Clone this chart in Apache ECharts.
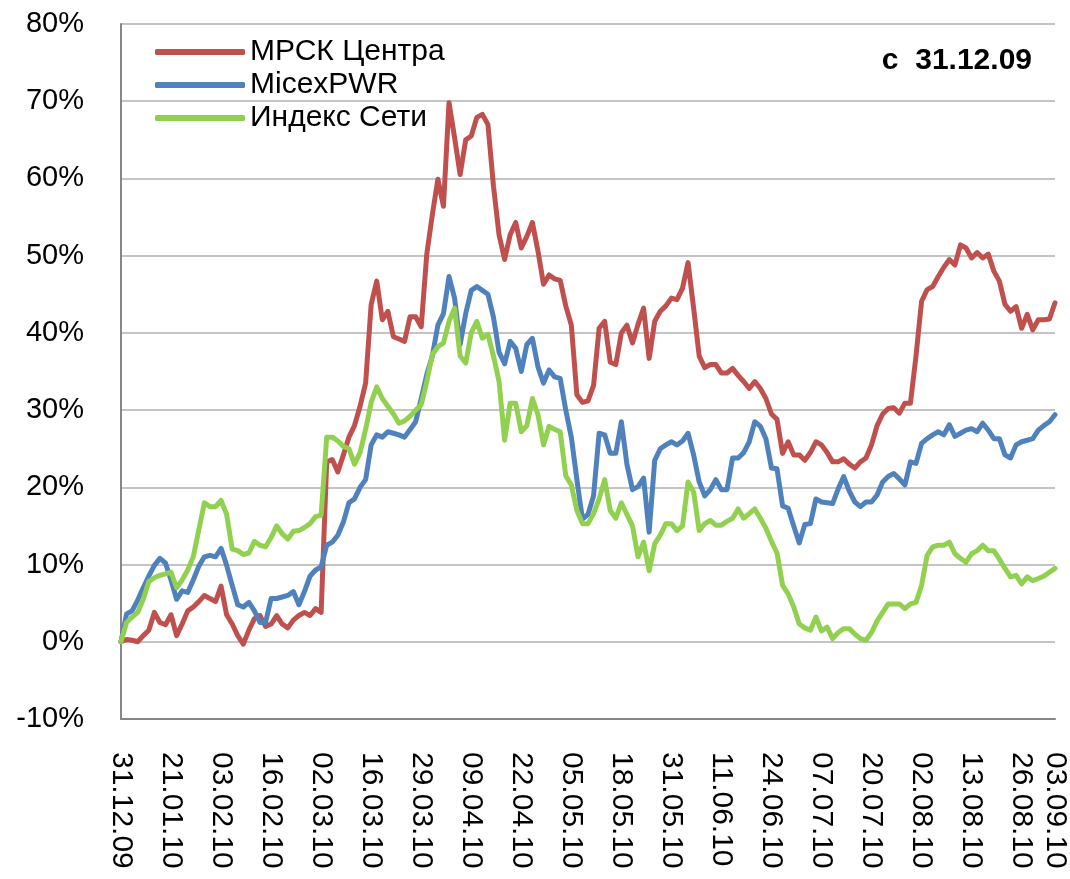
<!DOCTYPE html>
<html>
<head>
<meta charset="utf-8">
<title>МРСК Центра</title>
<script src="https://cdn.jsdelivr.net/npm/echarts@6.0.0/dist/echarts.min.js"></script>
<style>
    html, body { margin: 0; padding: 0; background: #fff; }
    #chart { width: 1070px; height: 879px; }
</style>
</head>
<body>
<div id="chart"></div>
<script>
    // подписи оси X (каждые 9 торговых дней + последний день)
    const tickLabels = ['31.12.09', '21.01.10', '03.02.10', '16.02.10', '02.03.10', '16.03.10', '29.03.10',
        '09.04.10', '22.04.10', '05.05.10', '18.05.10', '31.05.10', '11.06.10', '24.06.10', '07.07.10',
        '20.07.10', '02.08.10', '13.08.10', '26.08.10', '03.09.10'];
    const tickPos = [0, 9, 18, 27, 36, 45, 54, 63, 72, 81, 90, 99, 108, 117, 126, 135, 144, 153, 162, 168];

    const seriesNames = ['МРСК Центра', 'MicexPWR', 'Индекс Сети'];
    const seriesColors = ['#C0504D', '#4F81BD', '#92D050'];

    // изменение с 31.12.09, %
    const mrsk = [
        0, 0.3, 0.2, 0.0, 0.8, 1.5, 3.8, 2.5, 2.2, 3.5,
        0.8, 2.3, 4.0, 4.5, 5.2, 6.0, 5.6, 5.2, 7.2, 3.5,
        2.3, 0.8, -0.3, 1.5, 3.0, 3.4, 2.0, 2.3, 3.4, 2.3,
        1.8, 2.8, 3.4, 3.8, 3.4, 4.3, 3.8, 23.3, 23.6, 22.0,
        24.2, 26.5, 28.0, 30.5, 33.5, 43.7, 46.7, 41.7, 42.8, 39.5,
        39.2, 38.9, 42.1, 42.1, 40.8, 50.2, 55.3, 59.9, 56.4, 69.8,
        65.3, 60.5, 65.0, 65.5, 67.9, 68.3, 67.0, 59.0, 52.7, 49.5,
        52.7, 54.3, 51.0, 52.5, 54.3, 50.6, 46.3, 47.5, 47.0, 46.8,
        43.5, 41.0, 32.0, 31.0, 31.2, 33.2, 40.6, 41.5, 36.2, 35.9,
        40.0, 41.0, 38.7, 41.1, 43.2, 36.7, 41.5, 42.8, 43.5, 44.5,
        44.3, 45.8, 49.1, 43.2, 37.0, 35.5, 35.9, 35.9, 34.8, 34.8,
        35.4, 34.5, 33.7, 32.8, 33.7, 32.8, 31.5, 29.5, 28.8, 24.4,
        25.9, 24.2, 24.2, 23.5, 24.5, 25.9, 25.5, 24.5, 23.3, 23.3,
        23.7, 23.0, 22.5, 23.3, 23.8, 25.5, 28.0, 29.5, 30.2, 30.3,
        29.6, 30.9, 30.9, 37.0, 44.1, 45.6, 46.0, 47.3, 48.5, 49.5,
        48.8, 51.4, 51.0, 49.7, 50.4, 49.7, 50.2, 48.0, 46.7, 43.7,
        42.8, 43.4, 40.6, 42.4, 40.4, 41.7, 41.7, 41.8, 43.9
    ];
    const micexPwr = [
        0, 3.6, 4.0, 5.4, 7.0, 8.5, 9.9, 10.8, 10.2, 8.0,
        5.5, 6.6, 6.4, 8.0, 9.8, 11.0, 11.2, 11.0, 12.1, 9.9,
        7.3, 4.8, 4.5, 5.1, 4.0, 2.5, 2.5, 5.6, 5.6, 5.8,
        6.0, 6.5, 4.8, 6.5, 8.5, 9.3, 9.7, 12.5, 12.9, 13.8,
        15.5, 18.0, 18.5, 20.0, 21.0, 25.5, 26.8, 26.5, 27.2, 27.0,
        26.8, 26.5, 27.5, 28.5, 31.5, 34.6, 37.0, 41.0, 42.5, 47.3,
        44.5, 38.5, 42.5, 45.5, 46.0, 45.5, 45.0, 42.0, 37.5, 36.0,
        38.9, 38.0, 35.0, 38.5, 39.3, 35.6, 33.5, 35.2, 34.3, 34.1,
        30.0, 26.5, 21.0, 15.9, 16.5, 18.9, 27.0, 26.8, 24.4, 24.4,
        28.5, 23.0, 19.7, 20.1, 21.2, 14.2, 23.5, 25.0, 25.5, 25.9,
        25.5, 26.0, 27.0, 24.2, 20.7, 18.9, 19.7, 21.0, 19.7, 19.7,
        23.8, 23.8, 24.5, 25.9, 28.5, 27.9, 26.3, 22.5, 22.4, 17.6,
        17.3, 15.0, 12.8, 15.2, 15.3, 18.5, 18.1, 18.0, 17.9, 19.8,
        21.4, 19.5, 18.1, 17.5, 18.1, 18.1, 19.0, 20.7, 21.4, 21.8,
        21.1, 20.3, 23.3, 23.1, 25.7, 26.3, 26.8, 27.2, 26.8, 28.1,
        26.6, 27.0, 27.4, 27.6, 27.2, 28.3, 27.4, 26.3, 26.3, 24.2,
        23.8, 25.5, 25.9, 26.1, 26.3, 27.4, 28.0, 28.5, 29.4
    ];
    const indexSeti = [
        0, 2.5, 3.2, 3.8, 5.5, 7.8, 8.3, 8.6, 8.8, 9.0,
        7.0, 8.0, 9.3, 11.0, 14.5, 18.0, 17.5, 17.5, 18.3, 16.5,
        12.0, 11.8, 11.3, 11.5, 13.0, 12.5, 12.3, 13.5, 15.0, 14.0,
        13.3, 14.3, 14.4, 14.8, 15.3, 16.2, 16.4, 26.5, 26.5, 26.0,
        25.3, 25.0, 23.0, 24.5, 27.5, 31.0, 33.0, 31.5, 30.5, 29.5,
        28.3, 28.6, 29.2, 30.0, 30.7, 33.7, 37.2, 38.2, 38.7, 41.5,
        43.2, 37.0, 36.1, 40.0, 41.5, 39.3, 39.8, 37.0, 33.7, 26.1,
        30.9, 30.9, 27.2, 28.0, 31.5, 29.4, 25.5, 27.9, 27.5, 27.2,
        21.5, 20.3, 17.0, 15.3, 15.3, 16.6, 18.5, 21.0, 17.0, 16.0,
        18.0, 16.5, 15.0, 11.0, 12.9, 9.2, 12.7, 13.8, 15.3, 15.3,
        14.4, 15.0, 20.7, 19.4, 14.4, 15.3, 15.7, 15.1, 15.1, 15.6,
        16.0, 17.2, 16.0, 16.6, 17.2, 16.0, 14.7, 13.0, 11.5, 7.3,
        6.2, 4.5, 2.3, 1.8, 1.5, 3.2, 1.4, 1.9, 0.4, 1.2,
        1.7, 1.7, 1.0, 0.4, 0.2, 1.2, 2.7, 3.8, 4.9, 4.9,
        4.9, 4.3, 4.9, 5.1, 7.3, 11.2, 12.3, 12.5, 12.5, 12.9,
        11.4, 10.8, 10.3, 11.4, 11.8, 12.5, 11.8, 11.8, 10.7, 9.5,
        8.4, 8.6, 7.5, 8.4, 7.9, 8.2, 8.5, 9.0, 9.5
    ];

    const font = "'Liberation Sans', Arial, sans-serif";

    // категории: торговые дни, подписаны только дни из tickPos
    const days = mrsk.map(function (v, i) {
        const k = tickPos.indexOf(i);
        return k >= 0 ? tickLabels[k] : 'd' + i;
    });
    const showTick = function (i) { return tickPos.indexOf(i) >= 0; };

    const chart = echarts.init(document.getElementById('chart'), null, { renderer: 'canvas' });
    chart.setOption({
        animation: false,
        backgroundColor: '#fff',
        title: {
            text: 'с  31.12.09',
            right: 33,
            top: 41,
            textStyle: { fontFamily: font, fontSize: 30, fontWeight: 'bold', color: '#000' }
        },
        legend: {
            orient: 'vertical',
            left: 150,
            top: 32,
            icon: 'roundRect',
            itemWidth: 90,
            itemHeight: 6,
            itemGap: 3,
            data: seriesNames,
            textStyle: { fontFamily: font, fontSize: 30, color: '#000' }
        },
        grid: { left: 121, right: 13, top: 24, bottom: 160 },
        xAxis: [
            {
                type: 'category',
                data: days,
                boundaryGap: false,
                axisLine: { show: false },
                axisTick: { show: false },
                splitLine: { show: false },
                axisLabel: {
                    interval: showTick,
                    rotate: -90,
                    margin: 33,
                    fontFamily: font,
                    fontSize: 30,
                    color: '#000'
                }
            },
            {
                // линия нуля
                type: 'category',
                data: days,
                boundaryGap: false,
                position: 'bottom',
                axisLine: { onZero: true, lineStyle: { color: '#868686', width: 2 } },
                axisTick: { show: false },
                axisLabel: { show: false },
                splitLine: { show: false }
            }
        ],
        yAxis: {
            type: 'value',
            min: -10,
            max: 80,
            interval: 10,
            axisLine: { show: true, lineStyle: { color: '#868686', width: 2 } },
            axisTick: { show: false },
            axisLabel: {
                formatter: '{value}%',
                margin: 37,
                fontFamily: font,
                fontSize: 29,
                color: '#000'
            },
            splitLine: { lineStyle: { color: '#C4C4C4', width: 2 } }
        },
        series: [mrsk, micexPwr, indexSeti].map(function (vals, k) {
            return {
                name: seriesNames[k],
                type: 'line',
                data: vals,
                symbol: 'none',
                color: seriesColors[k],
                lineStyle: { width: 5, color: seriesColors[k], join: 'round', cap: 'round' }
            };
        })
    });
</script>
</body>
</html>
